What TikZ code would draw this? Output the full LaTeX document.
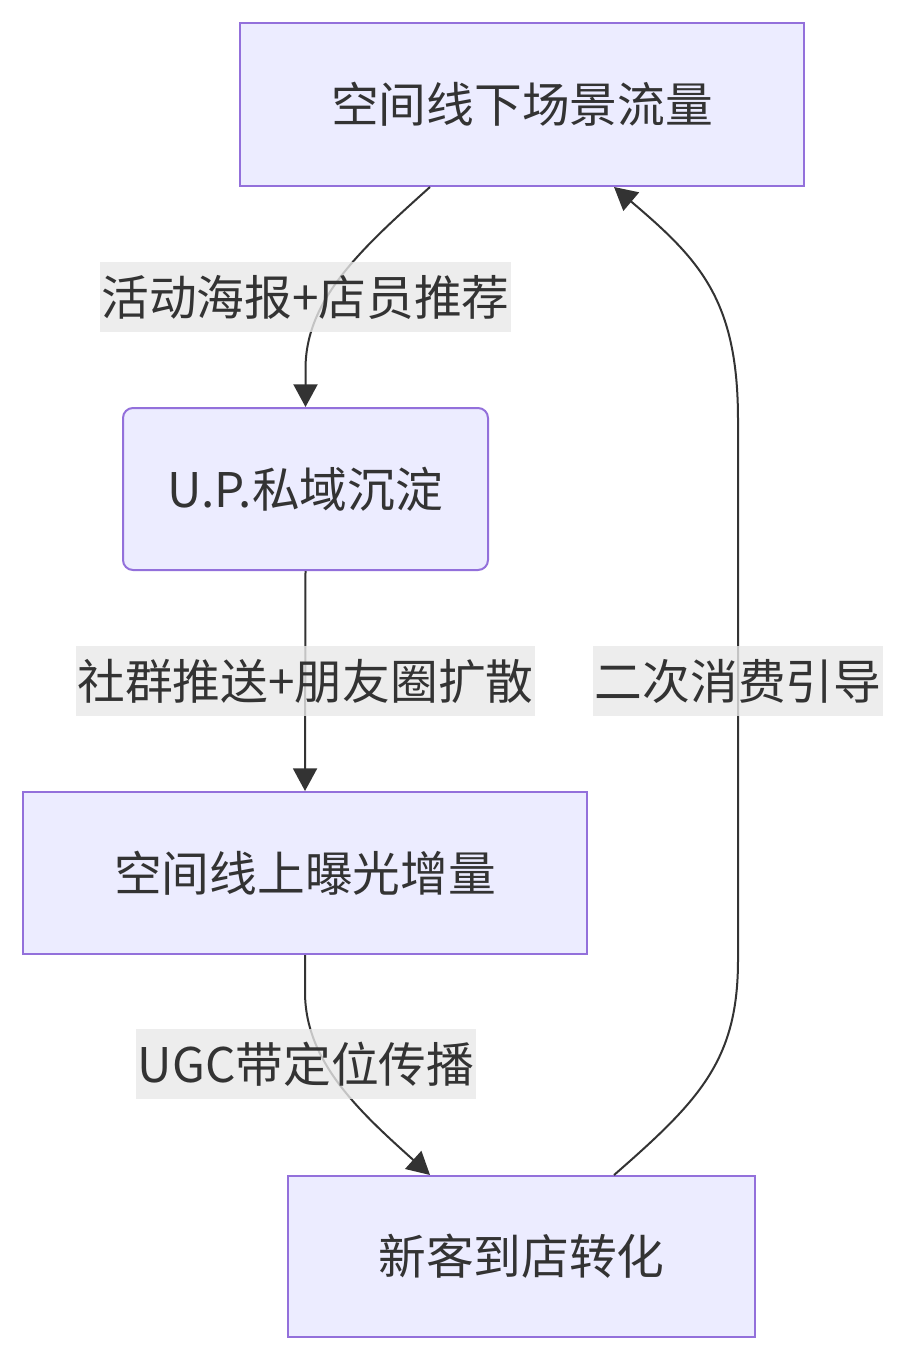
\documentclass[tikz,border=0pt]{standalone}
\usepackage{fontspec}
\setmainfont{Noto Sans CJK SC}
\usetikzlibrary{arrows.meta}
\definecolor{boxfill}{HTML}{ECECFF}
\definecolor{boxline}{HTML}{9370DB}
\definecolor{ink}{HTML}{333333}
\definecolor{labelbg}{HTML}{E8E8E8}
\begin{document}
\begin{tikzpicture}[x=0.75pt,y=-0.75pt,
  stepbox/.style={draw=boxline,fill=boxfill,line width=1.5pt,text=ink,
    font=\fontsize{35.8pt}{42pt}\selectfont,inner sep=0pt},
  flow/.style={draw=ink,line width=1.5pt,-{Triangle[length=17pt,width=18pt]}},
  edgelabel/.style={fill=labelbg,fill opacity=0.8,text opacity=1,text=ink,
    font=\fontsize{35.8pt}{42pt}\selectfont,inner xsep=1pt,inner ysep=0pt,
    minimum height=52.5pt}]
\useasboundingbox (0,0) rectangle (906,1362);

\node[stepbox,minimum width=423pt,minimum height=122.25pt] (A) at (522,104.5) {空间线下场景流量};
\node[stepbox,rounded corners=7.5pt,minimum width=273.75pt,minimum height=121.5pt] (B) at (305.5,489) {U.P.私域沉淀};
\node[stepbox,minimum width=423pt,minimum height=121.5pt] (C) at (305,873) {空间线上曝光增量};
\node[stepbox,minimum width=350.25pt,minimum height=120.75pt] (D) at (521.5,1256.5) {新客到店转化};

% connectors
\draw[flow] ([xshift=-69pt]A.south) .. controls (360,250) and (305,300) .. (305.5,370) -- (B.north);
\draw[flow] (B.south) -- (C.north);
\draw[flow] (C.south) -- (305,992) .. controls (305,1062) and (360,1112) .. ([xshift=-68.6pt]D.north);
\draw[flow] ([xshift=69.4pt]D.north) .. controls (700,1100) and (738,1060) .. (738,960)
  -- (738,420) .. controls (738,300) and (700,260) .. ([xshift=69pt]A.south);

% edge labels
\node[edgelabel] (lab1) at (305.5,297) {活动海报+店员推荐};
\node[edgelabel] (lab2) at (305.5,681) {社群推送+朋友圈扩散};
\node[edgelabel] (lab3) at (306,1064) {UGC带定位传播};
\node[edgelabel] (lab4) at (738,681) {二次消费引导};
\end{tikzpicture}
\end{document}
